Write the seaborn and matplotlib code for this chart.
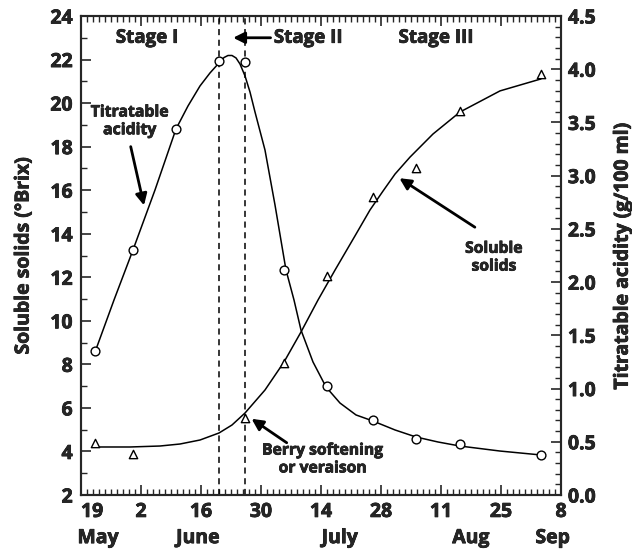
import matplotlib
matplotlib.use("Agg")
import matplotlib.pyplot as plt
import matplotlib.patheffects as pe
import seaborn as sns
import pandas as pd
from matplotlib.ticker import MultipleLocator, FixedLocator

# ---- data (days after 19 May) ----
acid_day = [3.3, 12.2, 22.2, 32.2, 38.3, 47.3, 57.3, 68.2, 78.2, 88.4, 107.4]
acid_val = [1.35, 2.30, 3.44, 4.08, 4.07, 2.11, 1.02, 0.70, 0.53, 0.48, 0.38]

brix_day = [3.3, 12.2, 38.3, 47.3, 57.3, 68.2, 78.2, 88.4, 107.4]
brix_val = [4.37, 3.88, 5.55, 8.08, 12.06, 15.70, 17.0, 19.64, 21.34]

# fitted curves as drawn
acid_fit_day = [3.27, 7.70, 12.13, 17.27, 22.17, 24.97, 27.77, 30.1, 32.2, 33.37,
                34.3, 35.23, 36.17, 37.1, 38.27, 39.43, 40.6, 42.93, 45.27, 47.83,
                49.7, 51.33, 54.13, 57.17, 60.43, 64.17, 68.13, 73.27, 78.17, 83.3,
                88.43, 97.77, 107.33]
acid_fit_val = [1.343, 1.832, 2.302, 2.866, 3.439, 3.655, 3.843, 3.965, 4.059, 4.110,
                4.129, 4.129, 4.106, 4.049, 3.937, 3.786, 3.598, 3.241, 2.724, 2.114,
                1.832, 1.550, 1.250, 1.015, 0.864, 0.752, 0.695, 0.611, 0.545, 0.498,
                0.460, 0.413, 0.376]

brix_fit_day = [3.27, 11.43, 18.43, 23.1, 27.77, 32.2, 35.23, 38.27, 42.93, 47.37,
                51.33, 55.3, 59.27, 63.93, 67.43, 70.47, 73.27, 76.77, 82.13,
                88.43, 97.77, 107.33]
brix_fit_val = [4.205, 4.205, 4.25, 4.342, 4.526, 4.848, 5.215, 5.766, 6.822, 8.108,
                9.486, 10.956, 12.33, 13.90, 15.09, 15.96, 16.74, 17.52, 18.58,
                19.59, 20.56, 21.11]

stage_lines = [32.2, 38.27]

tick_days = [0, 14, 28, 42, 56, 70, 84, 98, 112]
tick_labels = ["19", "2", "16", "30", "14", "28", "11", "25", "8"]
month_labels = ["May", "June", "July", "Aug", "Sep"]
month_pos = [4.0, 27.3, 60.4, 91.0, 110.1]

# ---- style ----
sns.set_style("ticks")
plt.rcParams["font.family"] = ["Open Sans", "DejaVu Sans"]
plt.rcParams["font.weight"] = "bold"
plt.rcParams["axes.linewidth"] = 1.5

HEAVY = [pe.withStroke(linewidth=0.5, foreground="black")]

fig = plt.figure(figsize=(6.32, 5.54), dpi=100)
ax = fig.add_axes([81 / 632, 1 - 495 / 554, 480 / 632, 479 / 554])
ax2 = ax.twinx()

ax.set_xlim(0, 112)
ax.set_ylim(2, 24)
ax2.set_ylim(0, 4.5)

df_bf = pd.DataFrame({"day": brix_fit_day, "v": brix_fit_val})
df_b = pd.DataFrame({"day": brix_day, "v": brix_val})
df_af = pd.DataFrame({"day": acid_fit_day, "v": acid_fit_val})
df_a = pd.DataFrame({"day": acid_day, "v": acid_val})

sns.lineplot(data=df_bf, x="day", y="v", ax=ax, color="black", lw=1.1, sort=False)
sns.scatterplot(data=df_b, x="day", y="v", ax=ax, marker="^", s=36,
                facecolor="white", edgecolor="black", linewidth=1.0, zorder=5)
sns.lineplot(data=df_af, x="day", y="v", ax=ax2, color="black", lw=1.1, sort=False)
sns.scatterplot(data=df_a, x="day", y="v", ax=ax2, marker="o", s=40,
                facecolor="white", edgecolor="black", linewidth=1.0, zorder=5)

for d in stage_lines:
    ax.axvline(d, color="black", lw=1.1, ls=(0, (4, 3)))

# ticks
ax.xaxis.set_major_locator(FixedLocator(tick_days))
ax.set_xticklabels(tick_labels)
ax.xaxis.set_minor_locator(MultipleLocator(1.4))
ax.yaxis.set_major_locator(MultipleLocator(2))
ax.yaxis.set_minor_locator(MultipleLocator(1))
ax2.yaxis.set_major_locator(MultipleLocator(0.5))
ax2.yaxis.set_minor_locator(MultipleLocator(0.1))
ax2.set_yticklabels([f"{v:.1f}" for v in ax2.get_yticks()])

TS = 14
ax.tick_params(axis="x", which="both", direction="in", top=True, bottom=True,
               labelsize=TS, pad=5)
ax.tick_params(axis="x", which="major", length=7, width=1.2)
ax.tick_params(axis="x", which="minor", length=4, width=1.0)
ax.tick_params(axis="y", which="both", direction="in", left=True, right=False,
               labelsize=TS, pad=6)
ax.tick_params(axis="y", which="major", length=7, width=1.2)
ax.tick_params(axis="y", which="minor", length=4, width=1.0)
ax2.tick_params(axis="y", which="both", direction="in", right=True, left=False,
                labelsize=TS, pad=5)
ax2.tick_params(axis="y", which="major", length=7, width=1.2)
ax2.tick_params(axis="y", which="minor", length=4, width=1.0)

for lab in ax.get_xticklabels() + ax.get_yticklabels() + ax2.get_yticklabels():
    lab.set_fontweight("bold")
    lab.set_path_effects(HEAVY)
ax.get_xticklabels()[0].set_horizontalalignment("left")

ax.set_xlabel("")
ax.set_ylabel("Soluble solids (°Brix)", fontsize=14, fontweight="bold", labelpad=12,
              path_effects=HEAVY)
ax2.set_ylabel("Titratable acidity (g/100 ml)", fontsize=14, fontweight="bold",
               labelpad=12, path_effects=HEAVY)

trans = ax.get_xaxis_transform()
for m, p in zip(month_labels, month_pos):
    ax.text(p, -0.09, m, transform=trans, ha="center", va="center",
            fontsize=14, fontweight="bold", path_effects=HEAVY)

# annotations
ax.text(15.4, 23.0, "Stage I", ha="center", va="center", fontsize=13.5,
        fontweight="bold", path_effects=HEAVY)
ax.annotate("Stage II", xy=(35.5, 23.0), xytext=(45.0, 23.0), ha="left", va="center",
            fontsize=13.5, fontweight="bold", path_effects=HEAVY,
            arrowprops=dict(arrowstyle="-|>", color="black", lw=2, mutation_scale=17,
                            shrinkA=0, shrinkB=0))
ax.text(82.8, 23.0, "Stage III", ha="center", va="center", fontsize=13.5,
        fontweight="bold", path_effects=HEAVY)

ax.text(11.4, 19.16, "Titratable\nacidity", ha="center", va="center", fontsize=11.4,
        fontweight="bold", linespacing=1.15, path_effects=HEAVY)
ax.annotate("", xy=(14.7, 15.3), xytext=(11.6, 18.0),
            arrowprops=dict(arrowstyle="-|>", color="black", lw=2, mutation_scale=17,
                            shrinkA=0, shrinkB=0))

ax.text(96.4, 12.9, "Soluble\nsolids", ha="center", va="center", fontsize=11.3,
        fontweight="bold", linespacing=1.15, path_effects=HEAVY)
ax.annotate("", xy=(74.3, 16.55), xytext=(91.9, 14.3),
            arrowprops=dict(arrowstyle="-|>", color="black", lw=2, mutation_scale=17,
                            shrinkA=0, shrinkB=0))

ax.text(56.5, 3.63, "Berry softening\nor veraison", ha="center", va="center",
        fontsize=11.3, fontweight="bold", linespacing=1.15, path_effects=HEAVY)
ax.annotate("", xy=(39.8, 5.5), xytext=(48.0, 4.4),
            arrowprops=dict(arrowstyle="-|>", color="black", lw=2, mutation_scale=17,
                            shrinkA=0, shrinkB=0))

fig.savefig("out.png", dpi=100)
